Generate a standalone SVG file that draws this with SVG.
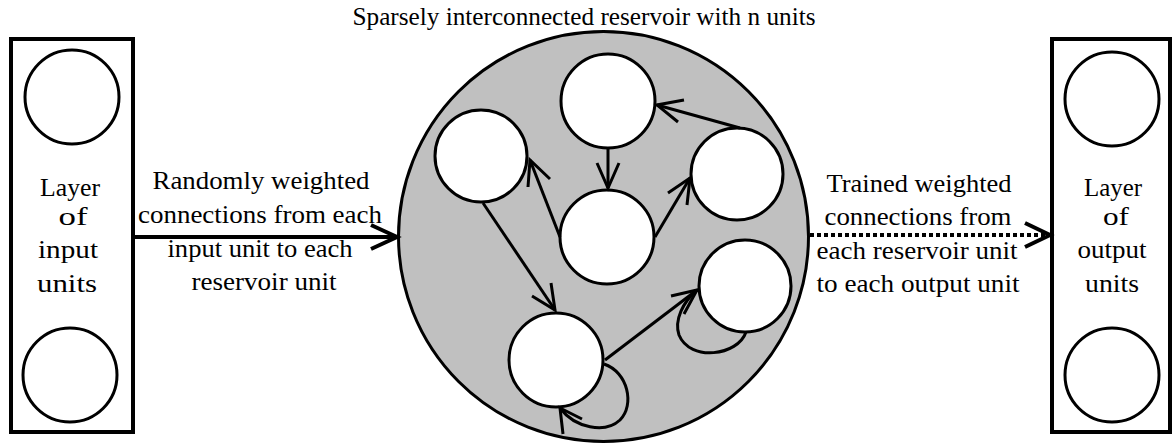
<svg xmlns="http://www.w3.org/2000/svg" width="1172" height="443" viewBox="0 0 1172 443">
  <style>
    text { font-family: "Liberation Serif", "Times New Roman", Times, "DejaVu Serif", serif; font-size: 26px; fill: #000; text-anchor: middle; }
    .title { font-size: 25px; }
    .box { fill: #fff; stroke: #000; stroke-width: 4; }
    .unit { fill: #fff; stroke: #000; stroke-width: 3; }
    .res { fill: #c0c0c0; stroke: #000; stroke-width: 3; }
    .edge { fill: none; stroke: #000; stroke-width: 3; stroke-linecap: butt; }
    .head { fill: none; stroke: #000; stroke-width: 3; stroke-linejoin: miter; }
    .thick { fill: none; stroke: #000; stroke-width: 4; }
    .dotted { fill: none; stroke: #000; stroke-width: 4; stroke-dasharray: 4 3; }
  </style>
  <rect width="1172" height="443" fill="#fff"/>

  <!-- input layer -->
  <g id="input-layer">
    <rect class="box" x="11" y="39" width="122" height="393"/>
    <circle class="unit" cx="72" cy="97" r="47"/>
    <circle class="unit" cx="70" cy="375" r="47"/>
    <text x="70" y="196" textLength="60" lengthAdjust="spacingAndGlyphs">Layer</text>
    <text x="73" y="225" textLength="29" lengthAdjust="spacingAndGlyphs">of</text>
    <text x="68" y="258" textLength="60" lengthAdjust="spacingAndGlyphs">input</text>
    <text x="67" y="292" textLength="60" lengthAdjust="spacingAndGlyphs">units</text>
  </g>

  <!-- output layer -->
  <g id="output-layer">
    <rect class="box" x="1052" y="39" width="118" height="393"/>
    <circle class="unit" cx="1112" cy="99" r="47"/>
    <circle class="unit" cx="1112" cy="375" r="47"/>
    <text x="1113" y="196" textLength="58" lengthAdjust="spacingAndGlyphs">Layer</text>
    <text x="1116" y="225" textLength="26" lengthAdjust="spacingAndGlyphs">of</text>
    <text x="1112" y="258" textLength="69" lengthAdjust="spacingAndGlyphs">output</text>
    <text x="1112" y="292" textLength="54" lengthAdjust="spacingAndGlyphs">units</text>
  </g>

  <!-- reservoir -->
  <g id="reservoir">
    <text class="title" x="584" y="25" textLength="463" lengthAdjust="spacingAndGlyphs">Sparsely interconnected reservoir with n units</text>
    <circle class="res" cx="603.5" cy="236.5" r="205"/>
  </g>
  <g id="unit-top"><circle class="unit" cx="608" cy="101" r="47"/></g>
  <g id="unit-upper-left"><circle class="unit" cx="481" cy="156" r="46"/></g>
  <g id="unit-center"><circle class="unit" cx="607" cy="237" r="47"/></g>
  <g id="unit-right"><circle class="unit" cx="737" cy="174" r="46"/></g>
  <g id="unit-lower-right"><circle class="unit" cx="745" cy="286" r="46"/></g>
  <g id="unit-bottom"><circle class="unit" cx="556" cy="360" r="47"/></g>

  <!-- connectors -->
  <g id="connectors">
    <!-- input to reservoir -->
    <line class="thick" x1="133" y1="237" x2="397" y2="237"/>
    <polyline class="thick" points="371,225 397,237 371,249"/>

    <!-- reservoir to output (trained) -->
    <line class="dotted" x1="810" y1="235" x2="1046" y2="235"/>
    <polyline class="thick" points="1025,223 1050,235 1025,247"/>

    <!-- top -> center -->
    <line class="edge" x1="608" y1="148" x2="608" y2="188"/>
    <polyline class="head" points="597,163 608,188 619,163"/>

    <!-- center -> upper-left -->
    <line class="edge" x1="560" y1="237" x2="530" y2="160"/>
    <polyline class="head" points="528,187 530,160 550,179"/>

    <!-- center -> right -->
    <line class="edge" x1="655" y1="237" x2="690" y2="178"/>
    <polyline class="head" points="668,193 690,178 687,205"/>

    <!-- right -> top -->
    <line class="edge" x1="740" y1="128" x2="657" y2="105"/>
    <polyline class="head" points="678,122 657,105 684,100"/>

    <!-- upper-left -> bottom -->
    <line class="edge" x1="483" y1="203" x2="555" y2="310"/>
    <polyline class="head" points="532,296 555,310 551,283"/>

    <!-- bottom -> lower-right -->
    <line class="edge" x1="605" y1="360" x2="697" y2="290"/>
    <polyline class="head" points="671,296 697,290 684,314"/>

    <!-- lower-right self loop -->
    <path class="edge" d="M 746 332 C 738 356, 690 362, 679 335 C 674 320, 683 302, 697 290"/>

    <!-- bottom self loop -->
    <path class="edge" d="M 604 364 C 628 372, 635 405, 620 420 C 605 434, 575 428, 560 408"/>
    <polyline class="head" points="582,419 560,408 563,434"/>
  </g>

  <!-- connection labels -->
  <g id="input-label">
    <text x="261" y="189" textLength="217" lengthAdjust="spacingAndGlyphs">Randomly weighted</text>
    <text x="260" y="223" textLength="244" lengthAdjust="spacingAndGlyphs">connections from each</text>
    <text x="260" y="257" textLength="185" lengthAdjust="spacingAndGlyphs">input unit to each</text>
    <text x="264" y="290" textLength="145" lengthAdjust="spacingAndGlyphs">reservoir unit</text>
  </g>
  <g id="output-label">
    <text x="919" y="192" textLength="185" lengthAdjust="spacingAndGlyphs">Trained weighted</text>
    <text x="918" y="225" textLength="187" lengthAdjust="spacingAndGlyphs">connections from</text>
    <text x="917" y="259" textLength="201" lengthAdjust="spacingAndGlyphs">each reservoir unit</text>
    <text x="918" y="292" textLength="203" lengthAdjust="spacingAndGlyphs">to each output unit</text>
  </g>
</svg>
